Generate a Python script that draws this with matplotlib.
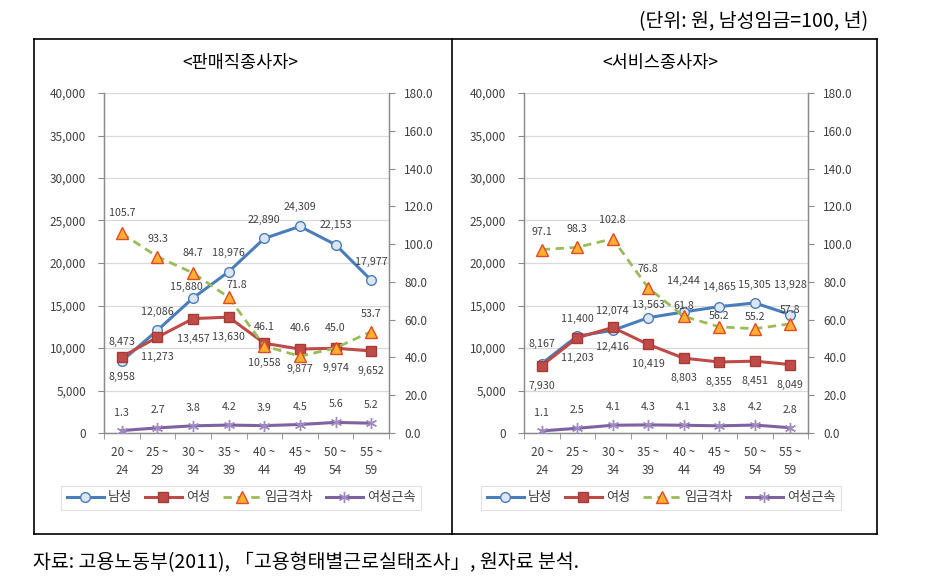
import matplotlib
matplotlib.use('Agg')
import matplotlib.pyplot as plt
from matplotlib.lines import Line2D
from matplotlib.ticker import FuncFormatter, FixedLocator
import numpy as np

plt.rcParams['font.family'] = ['Noto Sans CJK KR', 'DejaVu Sans']

# Data
ages = ['20 ~\n24', '25 ~\n29', '30 ~\n34', '35 ~\n39', '40 ~\n44', '45 ~\n49', '50 ~\n54', '55 ~\n59']

sales_male = [8473, 12086, 15880, 18976, 22890, 24309, 22153, 17977]
sales_female = [8958, 11273, 13457, 13630, 10558, 9877, 9974, 9652]
sales_gap = [105.7, 93.3, 84.7, 71.8, 46.1, 40.6, 45.0, 53.7]
sales_tenure = [1.3, 2.7, 3.8, 4.2, 3.9, 4.5, 5.6, 5.2]

serv_male = [8167, 11400, 12074, 13563, 14244, 14865, 15305, 13928]
serv_female = [7930, 11203, 12416, 10419, 8803, 8355, 8451, 8049]
serv_gap = [97.1, 98.3, 102.8, 76.8, 61.8, 56.2, 55.2, 57.8]
serv_tenure = [1.1, 2.5, 4.1, 4.3, 4.1, 3.8, 4.2, 2.8]

legend_names = ['남성', '여성', '임금격차', '여성근속']

# label offsets in pixels (dx, dy)
sales_off = {
    'male': [(0, 19), (0, 18), (-7, 11), (0, 19), (0, 18), (0, 19), (0, 20), (0, 18)],
    'female': [(0, -20)] * 8,
    'gap': [(0, 20), (0, 18), (0, 20), (8, 12), (0, 19), (0, 28), (0, 20), (0, 18)],
    'tenure': [(0, 18)] * 8,
}
serv_off = {
    'male': [(0, 20), (0, 17), (0, 19), (0, 13), (0, 31), (0, 20), (0, 18), (0, 30)],
    'female': [(0, -20)] * 8,
    'gap': [(0, 18), (0, 18), (0, 19), (0, 19), (0, 10), (0, 11), (0, 12), (0, 14)],
    'tenure': [(0, 18)] * 8,
}

C_MALE = '#4A7EBB'
C_FEMALE = '#BE4B48'
C_GAP = '#9BBB59'
C_TEN = '#7E62A1'
TXT = '#404040'
AX = '#8C8C8C'

fig = plt.figure(figsize=(9.26, 5.78), dpi=100)
W, H = 926.0, 578.0


def px(x0, y0, w, h):
    return [x0 / W, 1 - (y0 + h) / H, w / W, h / H]


def label_points(ax, xs, ys, fmt, offs):
    for x, y, (dx, dy) in zip(xs, ys, offs):
        ax.annotate(fmt(y), (x, y), xytext=(dx * 0.72, dy * 0.72), textcoords='offset points',
                    ha='center', va='center', fontsize=7.7, color=TXT, zorder=10)


def panel(rect, title, title_x, male, female, gap, tenure, offs, leg_x):
    ax = fig.add_axes(rect)
    ax2 = ax.twinx()
    x = np.arange(len(ages))

    ax.set_xlim(-0.5, len(ages) - 0.5)
    ax.set_ylim(0, 40000)
    ax2.set_ylim(0, 180)
    ax.set_yticks(np.arange(0, 40001, 5000))
    ax2.set_yticks(np.arange(0, 181, 20))
    ax.yaxis.set_major_formatter(FuncFormatter(lambda v, p: f'{int(v):,}'))
    ax2.yaxis.set_major_formatter(FuncFormatter(lambda v, p: f'{v:.1f}'))
    ax.grid(axis='y', color='#D9D9D9', linewidth=0.9)
    ax.set_axisbelow(True)

    ax.set_xticks(x)
    ax.set_xticklabels(ages, fontsize=8.5, color=TXT, linespacing=1.5)
    ax.xaxis.set_minor_locator(FixedLocator(np.arange(-0.5, len(ages), 1)))
    ax.tick_params(axis='x', which='major', length=0, pad=9)
    ax.tick_params(axis='x', which='minor', length=4, color=AX)
    ax.tick_params(axis='y', length=4, color=AX, labelsize=8.5, labelcolor=TXT, pad=9)
    ax2.tick_params(axis='y', length=4, color=AX, labelsize=8.5, labelcolor=TXT, pad=7)

    for a in (ax, ax2):
        a.spines['top'].set_visible(False)
        for s in ['left', 'right', 'bottom']:
            a.spines[s].set_color(AX)
            a.spines[s].set_linewidth(0.9)

    l1, = ax.plot(x, male, color=C_MALE, lw=2.2, marker='o', ms=7, mfc='#DCE6F2', mec=C_MALE, mew=1.0, zorder=3)
    l2, = ax.plot(x, female, color=C_FEMALE, lw=2.2, marker='s', ms=7.5, mfc=C_FEMALE, mec='#A83A37', zorder=4)
    l3, = ax2.plot(x, gap, color=C_GAP, lw=2.0, ls=(0, (3, 2)), marker='^', ms=8, mfc='#FFB02E',
                   mec='#E04B25', mew=1.0, zorder=3)
    l4, = ax2.plot(x, tenure, color=C_TEN, lw=2.2, marker=(6, 2, 0), ms=8, mec='#A08CC0', mew=1.0, zorder=3)

    label_points(ax, x, male, lambda v: f'{v:,}', offs['male'])
    label_points(ax, x, female, lambda v: f'{v:,}', offs['female'])
    label_points(ax2, x, gap, lambda v: f'{v:.1f}', offs['gap'])
    label_points(ax2, x, tenure, lambda v: f'{v:.1f}', offs['tenure'])

    fig.text(title_x / W, 1 - 63 / H, title, ha='center', va='center', fontsize=12.6, color='#000000')

    leg = ax.legend([l1, l2, l3, l4], legend_names, loc='center', ncol=4,
                    bbox_to_anchor=(leg_x / W, 1 - 498 / H), bbox_transform=fig.transFigure,
                    fontsize=9.5, frameon=True, fancybox=False, edgecolor='#D9D9D9',
                    handlelength=2.8, handletextpad=0.3, columnspacing=1.0, borderpad=0.4)
    leg.get_frame().set_linewidth(0.8)
    for t in leg.get_texts():
        t.set_color(TXT)
    return ax


panel(px(104, 93, 285, 340), '<판매직종사자>', 240, sales_male, sales_female, sales_gap, sales_tenure,
      sales_off, 241)
panel(px(524, 93, 284, 340), '<서비스종사자>', 660, serv_male, serv_female, serv_gap, serv_tenure,
      serv_off, 661)

# outer frame and divider
bx0, bx1, by0, by1, bdiv = 33.5 / W, 876.5 / W, 1 - 38.5 / H, 1 - 534 / H, 451.5 / W
for xs, ys in [([bx0, bx1], [by0, by0]), ([bx0, bx1], [by1, by1]), ([bx0, bx0], [by0, by1]),
               ([bx1, bx1], [by0, by1]), ([bdiv, bdiv], [by0, by1])]:
    fig.add_artist(Line2D(xs, ys, color='black', lw=1.2, transform=fig.transFigure))

fig.text(868 / W, 1 - 22 / H, '(단위: 원, 남성임금=100, 년)', ha='right', va='center', fontsize=14, color='#000000')
fig.text(33 / W, 1 - 563 / H, '자료: 고용노동부(2011), 「고용형태별근로실태조사」, 원자료 분석.', ha='left', va='center',
         fontsize=14, color='#000000')

fig.savefig('out.png', dpi=100)
